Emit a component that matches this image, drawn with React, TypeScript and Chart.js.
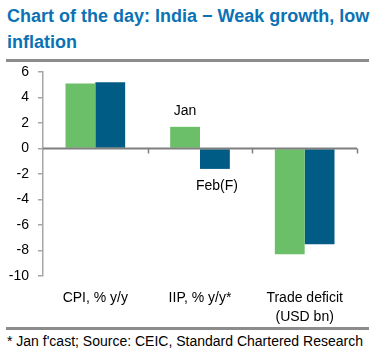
import React, { useEffect, useRef } from "react";
import { Chart, registerables } from "chart.js";

Chart.register(...registerables);

const categories: string[][] = [["CPI, % y/y"], ["IIP, % y/y*"], ["Trade deficit", "(USD bn)"]];
const janValues: number[] = [5.1, 1.7, -8.3];
const febValues: number[] = [5.2, -1.6, -7.5];
const yTicks: number[] = [6, 4, 2, 0, -2, -4, -6, -8, -10];
const barNotes = [
  { dataset: 0, index: 1, text: "Jan", place: "above" },
  { dataset: 1, index: 1, text: "Feb(F)", place: "below" },
];

const FONT = "'Liberation Sans', Arial, sans-serif";
const GREEN = "#6cbf69";
const BLUE = "#005b85";

const zeroLinePlugin = {
  id: "zeroLine",
  afterDatasetsDraw(chart: any) {
    const { ctx, chartArea, scales } = chart;
    const x = scales.x;
    const y = scales.y;
    const y0 = y.getPixelForValue(0);
    ctx.save();
    ctx.strokeStyle = "#7f7f7f";
    ctx.lineWidth = 2;
    ctx.beginPath();
    ctx.moveTo(chartArea.left, y0);
    ctx.lineTo(chartArea.right, y0);
    ctx.stroke();
    const n = categories.length;
    const w = (chartArea.right - chartArea.left) / n;
    ctx.lineWidth = 1.5;
    for (let i = 1; i <= n; i++) {
      const xb = Math.round(x.getPixelForValue(i - 1) + w / 2) + 0.5;
      ctx.beginPath();
      ctx.moveTo(xb, y0);
      ctx.lineTo(xb, y0 + 5);
      ctx.stroke();
    }
    ctx.restore();
  },
};

const notesPlugin = {
  id: "barNotes",
  afterDatasetsDraw(chart: any) {
    const { ctx } = chart;
    ctx.save();
    ctx.fillStyle = "#000";
    ctx.font = `14px ${FONT}`;
    ctx.textAlign = "center";
    ctx.textBaseline = "middle";
    for (const n of barNotes) {
      const el = chart.getDatasetMeta(n.dataset).data[n.index];
      if (!el) continue;
      const ty = n.place === "above" ? el.y - 16 : el.y + 17;
      ctx.fillText(n.text, el.x + (n.place === "below" ? 2 : 0), ty);
    }
    ctx.restore();
  },
};

function ChartBox() {
  const ref = useRef<HTMLCanvasElement | null>(null);
  useEffect(() => {
    if (!ref.current) return;
    const chart = new Chart(ref.current, {
      type: "bar",
      data: {
        labels: categories,
        datasets: [
          { label: "Jan", data: janValues, backgroundColor: GREEN, borderWidth: 0 },
          { label: "Feb(F)", data: febValues, backgroundColor: BLUE, borderWidth: 0 },
        ],
      },
      options: {
        animation: false,
        responsive: false,
        maintainAspectRatio: false,
        events: [],
        layout: { padding: { top: 10, right: 16, left: 0, bottom: 0 } },
        datasets: { bar: { categoryPercentage: 0.57, barPercentage: 1 } },
        plugins: { legend: { display: false }, tooltip: { enabled: false } },
        scales: {
          x: {
            grid: { display: false, drawTicks: false },
            border: { display: false },
            ticks: {
              color: "#000",
              font: { family: FONT, size: 14, lineHeight: 1.4 },
              padding: 12,
              maxRotation: 0,
              autoSkip: false,
            },
            afterFit: (s: any) => {
              s.height = 51;
              s.paddingLeft = 0;
              s.paddingRight = 0;
            },
          },
          y: {
            min: -10,
            max: 6,
            afterBuildTicks: (s: any) => {
              s.ticks = yTicks.map((v) => ({ value: v }));
            },
            grid: { drawOnChartArea: false, drawTicks: true, tickLength: 5, color: "#a6a6a6", lineWidth: 1.5 },
            border: { display: true, color: "#a6a6a6", width: 1.5 },
            ticks: {
              color: "#000",
              font: { family: FONT, size: 14 },
              padding: 9,
              crossAlign: "near",
            },
            afterFit: (s: any) => {
              s.width = 43;
              s.paddingTop = 0;
              s.paddingBottom = 0;
            },
          },
        },
      },
      plugins: [zeroLinePlugin, notesPlugin],
    });
    return () => chart.destroy();
  }, []);
  return <canvas ref={ref} width={373} height={265} style={{ position: "absolute", left: 0, top: 62, width: 373, height: 265 }} />;
}

export default function App() {
  return (
    <div style={{ position: "absolute", left: 0, top: 0, width: 373, height: 355, background: "#fff", fontFamily: FONT, overflow: "hidden" }}>
      <div style={{ position: "absolute", left: 7, top: 3, width: 364, fontWeight: "bold", fontSize: 18, lineHeight: "26px", color: "#0b72b5" }}>
        Chart of the day: India − Weak growth, low inflation
      </div>
      <div style={{ position: "absolute", left: 6, top: 59, width: 363, height: 3, background: "#8c8c8c" }} />
      <ChartBox />
      <div style={{ position: "absolute", left: 6, top: 327, width: 363, height: 3, background: "#8c8c8c" }} />
      <div style={{ position: "absolute", left: 7, top: 333, fontSize: 14, lineHeight: "17px", color: "#000", whiteSpace: "nowrap" }}>
        * Jan f'cast; Source: CEIC, Standard Chartered Research
      </div>
    </div>
  );
}
